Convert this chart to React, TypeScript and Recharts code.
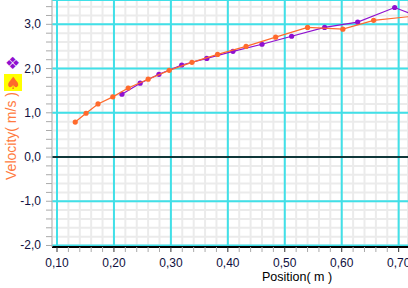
import { ScatterChart, Scatter, XAxis, YAxis, CartesianGrid, ReferenceLine } from "recharts";

const ORANGE_X = [0.132, 0.151, 0.172, 0.198, 0.225, 0.26, 0.297, 0.337, 0.382, 0.432, 0.484, 0.54, 0.602, 0.656, 0.73];
const ORANGE_V = [0.79, 0.99, 1.2, 1.36, 1.56, 1.76, 1.96, 2.14, 2.32, 2.5, 2.71, 2.93, 2.89, 3.09, 3.19];
const PURPLE_X = [0.214, 0.246, 0.279, 0.319, 0.363, 0.409, 0.46, 0.512, 0.57, 0.628, 0.693, 0.73];
const PURPLE_V = [1.42, 1.67, 1.87, 2.08, 2.23, 2.39, 2.55, 2.73, 2.93, 3.05, 3.38, 3.2];

const X_MAJOR = [0.1, 0.2, 0.3, 0.4, 0.5, 0.6, 0.7];
const V_MAJOR = [-2, -1, 0, 1, 2, 3];
const X_MINOR = Array.from({ length: 31 }, (_, i) => Math.round((0.1 + i * 0.02) * 100) / 100);
const V_MINOR = Array.from({ length: 28 }, (_, i) => Math.round((-2 + i * 0.2) * 10) / 10);

const X_DOMAIN: [number, number] = [0.0912, 0.7164];
const V_DOMAIN: [number, number] = [-2.034, 3.55];

const ORANGE = "#ff6a2c";
const PURPLE = "#9010d0";
const CYAN = "#40e0e8";
const FONT = "'Liberation Sans', Arial, sans-serif";

const orange = ORANGE_X.map((x, i) => ({ x, v: ORANGE_V[i] }));
const purple = PURPLE_X.map((x, i) => ({ x, v: PURPLE_V[i] }));

const isMajor = (val: number, majors: number[]) => majors.some((m) => Math.abs(m - val) < 1e-6);
const fmt = (val: number, digits: number) => val.toFixed(digits).replace(".", ",");

function XTick(props: any) {
  const { x, y, payload } = props;
  const major = isMajor(payload.value, X_MAJOR);
  return (
    <g>
      <line x1={x} x2={x} y1={y - 5} y2={y} stroke={major ? "#333" : "#aaa"} />
      {major && (
        <text x={x} y={y + 15} textAnchor="middle" fontSize={12} fontFamily={FONT} fill="#101040">
          {fmt(payload.value, 2)}
        </text>
      )}
    </g>
  );
}

function YTick(props: any) {
  const { x, y, payload } = props;
  const major = isMajor(payload.value, V_MAJOR);
  return (
    <g>
      <line x1={x} x2={x + 6} y1={y} y2={y} stroke="#aaa" />
      {major && (
        <text x={x - 5} y={y + 4} textAnchor="end" fontSize={12} fontFamily={FONT} fill="#101040">
          {fmt(payload.value, 1)}
        </text>
      )}
    </g>
  );
}

const dot = (color: string) => (p: any) => <circle cx={p.cx} cy={p.cy} r={2.6} fill={color} />;

export default function App() {
  return (
    <div style={{ position: "absolute", left: 0, top: 0, width: 408, height: 288, background: "#fff" }}>
      <ScatterChart width={408} height={288} margin={{ top: 0, right: 0, bottom: 0, left: 0 }}>
        <CartesianGrid xAxisId="x" yAxisId="v" stroke="#ebebeb" strokeWidth={2} />
        <CartesianGrid xAxisId="x" yAxisId="vMajor" vertical={false} stroke={CYAN} strokeWidth={2} />
        <XAxis
          xAxisId="x"
          dataKey="x"
          type="number"
          domain={X_DOMAIN}
          ticks={X_MINOR}
          interval={0}
          allowDataOverflow
          height={41}
          tickSize={5}
          tickMargin={0}
          tickLine={false}
          axisLine={{ stroke: "#000", strokeWidth: 2 }}
          tick={<XTick />}
        />
        <YAxis
          yAxisId="v"
          dataKey="v"
          type="number"
          domain={V_DOMAIN}
          ticks={V_MINOR}
          interval={0}
          allowDataOverflow
          width={52}
          tickSize={6}
          tickMargin={0}
          tickLine={false}
          axisLine={{ stroke: "#bbb" }}
          tick={<YTick />}
        />
        <YAxis yAxisId="vMajor" type="number" domain={V_DOMAIN} ticks={V_MAJOR} allowDataOverflow hide />
        {X_MAJOR.map((v) => (
          <ReferenceLine key={v} xAxisId="x" yAxisId="v" x={v} stroke={CYAN} strokeWidth={2} />
        ))}
        <ReferenceLine xAxisId="x" yAxisId="v" y={0} stroke="#000" strokeWidth={1.5} />
        <Scatter
          xAxisId="x"
          yAxisId="v"
          data={purple}
          line={{ stroke: PURPLE, strokeWidth: 1.2 }}
          shape={dot(PURPLE)}
          isAnimationActive={false}
        />
        <Scatter
          xAxisId="x"
          yAxisId="v"
          data={orange}
          line={{ stroke: ORANGE, strokeWidth: 1.2 }}
          shape={dot(ORANGE)}
          isAnimationActive={false}
        />
      </ScatterChart>
      <svg width={408} height={288} style={{ position: "absolute", left: 0, top: 0, pointerEvents: "none" }}>
        <text x={297} y={281} textAnchor="middle" fontSize={12.5} fontFamily={FONT} fill="#000">
          Position( m )
        </text>
        <text
          x={16}
          y={136}
          transform="rotate(-90 16 136)"
          textAnchor="middle"
          fontSize={14}
          fontFamily={FONT}
          fill="#ff7a40"
        >
          Velocity( m/s )
        </text>
        <text x={12.5} y={68.5} textAnchor="middle" fontSize={17} fontFamily="'DejaVu Sans'" fill={PURPLE}>
          ❖
        </text>
        <rect x={4} y={74} width={18} height={17} fill="#ffff00" />
        <text x={13} y={89} textAnchor="middle" fontSize={17} fontFamily="'DejaVu Sans'" fill={ORANGE}>
          ♠
        </text>
      </svg>
    </div>
  );
}
